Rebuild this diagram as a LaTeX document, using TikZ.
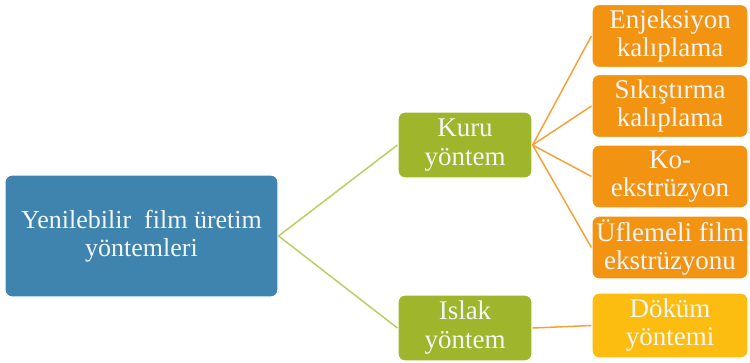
\documentclass[tikz,border=0pt]{standalone}
\usepackage{fontspec}
\setmainfont{Liberation Serif}
\definecolor{rootblue}{HTML}{3F84AF}
\definecolor{midgreen}{HTML}{9FB52B}
\definecolor{leaforange}{HTML}{F39312}
\definecolor{leafyellow}{HTML}{FCBD10}
\definecolor{lineGreen}{HTML}{B8CF62}
\definecolor{lineOrange}{HTML}{F6A23A}
\definecolor{txt}{HTML}{F3F6F8}
\tikzset{
  box/.style={draw=white, line width=1.2pt, rounded corners=7pt, inner sep=0pt, text=txt, align=center},
  rootbox/.style={box, fill=rootblue, minimum width=273pt, minimum height=122pt, font=\fontsize{26}{28}\selectfont},
  midbox/.style={box, fill=midgreen, minimum width=134pt, minimum height=66pt, font=\fontsize{27}{29}\selectfont},
  leafbox/.style={box, fill=leaforange, minimum width=156pt, minimum height=63pt, font=\fontsize{27}{28}\selectfont},
  gline/.style={draw=lineGreen, line width=1.5pt},
  oline/.style={draw=lineOrange, line width=1.5pt},
}
\begin{document}
\begin{tikzpicture}[x=1pt,y=-1pt]
\useasboundingbox (0,0) rectangle (750,362);
\node[rootbox] (root) at (141.5,236) {Yenilebilir\ \ film üretim\\yöntemleri};
\node[midbox] (kuru) at (465,145) {Kuru\\yöntem};
\node[midbox] (islak) at (465,328) {Islak\\yöntem};
\node[leafbox] (enj) at (670,36) {Enjeksiyon\\kalıplama};
\node[leafbox] (sik) at (670,106) {Sıkıştırma\\kalıplama};
\node[leafbox] (ko) at (670,176.5) {Ko-\\ekstrüzyon};
\node[leafbox] (ufl) at (670,247.5) {Üflemeli film\\ekstrüzyonu};
\node[leafbox, fill=leafyellow, minimum height=65pt] (dok) at (670,325.5) {Döküm\\yöntemi};
\draw[gline] (root.east) -- (kuru.west);
\draw[gline] (root.east) -- (islak.west);
\draw[oline] (kuru.east) -- (enj.west);
\draw[oline] (kuru.east) -- (sik.west);
\draw[oline] (kuru.east) -- (ko.west);
\draw[oline] (kuru.east) -- (ufl.west);
\draw[oline] (islak.east) -- (dok.west);
\end{tikzpicture}
\end{document}
